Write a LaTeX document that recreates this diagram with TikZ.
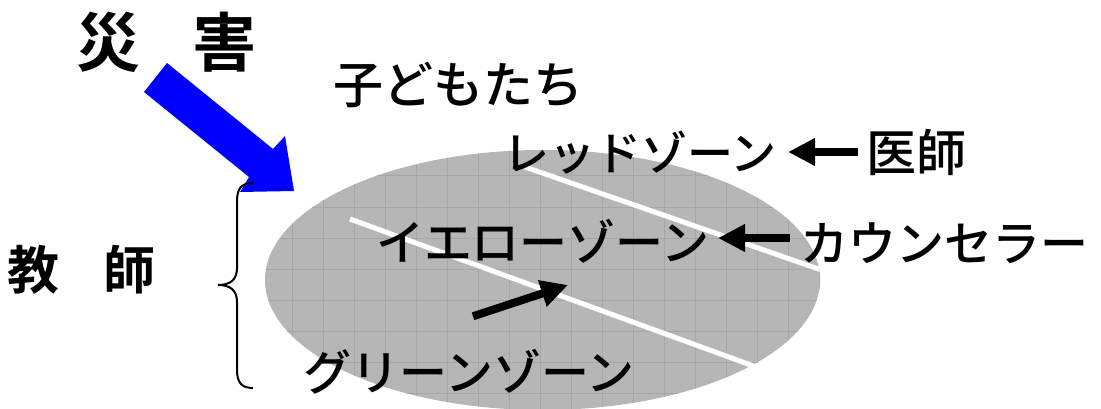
\documentclass[tikz,border=0pt]{standalone}
\usepackage{fontspec}
\newfontfamily\jp{Noto Sans CJK JP Medium}
\newfontfamily\jpb{Noto Sans CJK JP Bold}
\usetikzlibrary{arrows.meta}
\definecolor{ellgray}{RGB}{182,182,182}
\definecolor{gridgray}{RGB}{166,166,166}
\definecolor{arrowblue}{RGB}{0,0,255}
\begin{document}
\begin{tikzpicture}[x=1pt,y=-1pt,
  lbl/.style={inner sep=0pt,anchor=center,font=\jp},
  bigbold/.style={lbl,font=\jpb\fontsize{64}{64}\selectfont},
  midbold/.style={lbl,font=\jpb\fontsize{52}{52}\selectfont},
  zonetext/.style={lbl,font=\jp\fontsize{48}{48}\selectfont},
  blackarrow/.style={line width=8pt,-{Triangle[length=27pt,width=26pt]}},
  zoneline/.style={white,line width=5pt},
  gridline/.style={gridgray,line width=1pt}]
\useasboundingbox (0,0) rectangle (1101,409);
% ellipse
\begin{scope}
  \clip (542.5,280) ellipse [x radius=277.5,y radius=130];
  \fill[ellgray] (260,145) rectangle (825,415);
  \foreach \gx in {292,323,354,385,416,447,478,509,540,571,602,633,664,695,726,757,788,819}
    \draw[gridline] (\gx,145) -- (\gx,415);
  \foreach \gy in {176,207,238,269,300,331,362,393}
    \draw[gridline] (260,\gy) -- (825,\gy);
  \draw[zoneline] (525,167) -- (830,273);
  \draw[zoneline] (350,219) -- (770,372);
\end{scope}
% blue arrow
\fill[arrowblue] (144,92) -- (167,63) -- (273,149) -- (285,136) -- (294,191) -- (240,192) -- (249,177) -- cycle;
% texts
\node[bigbold] (sai) at (108,42) {災};
\node[bigbold] (gai) at (224,42) {害};
\node[zonetext,font=\jp\fontsize{50}{50}\selectfont] (kodomo) at (458,85) {子どもたち};
\node[zonetext,font=\jp\fontsize{46}{46}\selectfont] (red) at (640,153) {レッドゾーン};
\node[zonetext,font=\jp\fontsize{50}{50}\selectfont,anchor=west] (ishi) at (866,152) {医師};
\node[zonetext] (yellow) at (543,241) {イエローゾーン};
\node[zonetext,anchor=west] (counselor) at (800,243) {カウンセラー};
\node[midbold] (kyo) at (34,270) {教};
\node[midbold] (shi) at (129,270) {師};
\node[zonetext] (green) at (469,372) {グリーンゾーン};
% arrows
\coordinate (redtip) at (788,152);
\coordinate (yellowtip) at (718,238);
\coordinate (greentip) at (568,285);
\draw[blackarrow] (ishi.west |- redtip) ++(-8,0) -- (redtip);
\draw[blackarrow] (counselor.west |- yellowtip) ++(-10,0) -- (yellowtip);
\draw[blackarrow] (green.north) ++(4,-33) -- (greentip);
% brace
\coordinate (bt) at (253,183);
\coordinate (bm) at (218,285);
\coordinate (bb) at (253,388);
\draw[line width=2pt] (bt) .. controls (240,183) and (237,190) .. (237,202)
  -- (237,268) .. controls (237,280) and (230,285) .. (bm)
  .. controls (230,285) and (237,290) .. (237,302)
  -- (237,369) .. controls (237,381) and (240,388) .. (bb);
\end{tikzpicture}
\end{document}
